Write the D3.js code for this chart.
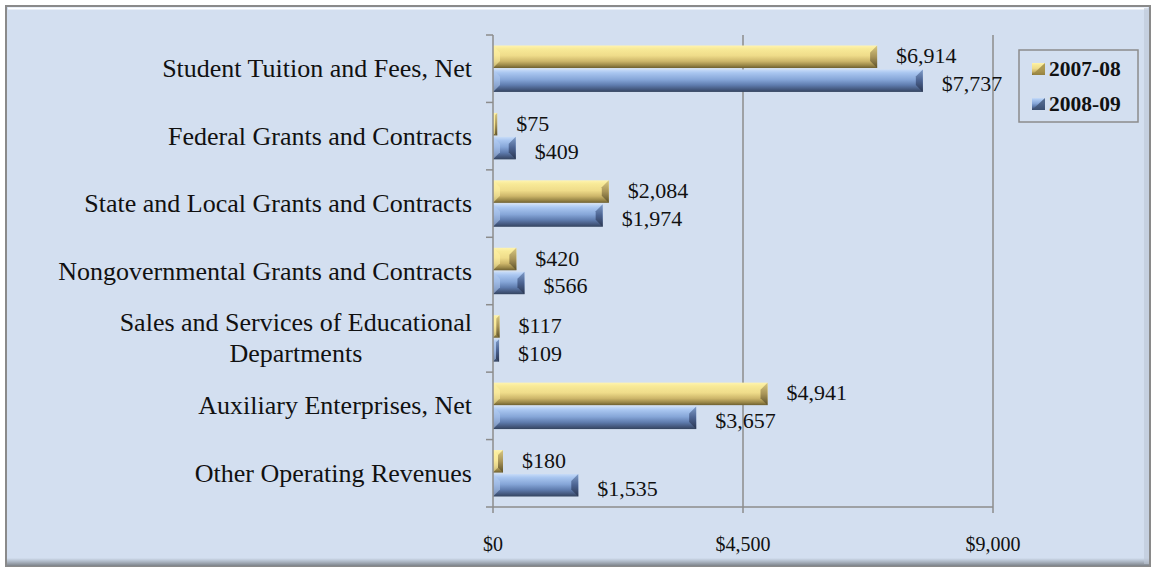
<!DOCTYPE html>
<html><head><meta charset="utf-8">
<script src="https://cdn.jsdelivr.net/npm/d3@7"></script>
<style>body{margin:0;background:#fff;}svg{display:block;}</style>
</head><body>
<svg id="chart" width="1153" height="572"></svg>
<script>
const categories = ["Student Tuition and Fees, Net","Federal Grants and Contracts","State and Local Grants and Contracts","Nongovernmental Grants and Contracts","Sales and Services of Educational Departments","Auxiliary Enterprises, Net","Other Operating Revenues"];
const seriesNames = ["2007-08","2008-09"];
const values0708 = [6914,75,2084,420,117,4941,180];
const values0809 = [7737,409,1974,566,109,3657,1535];
const tickValues = [0,4500,9000];

const svg = d3.select("#chart");
const serif = "'Liberation Serif','Times New Roman',serif";
const defs = svg.append("defs");
function grad(id, stops, vertical=true){
  const g = defs.append("linearGradient").attr("id",id)
    .attr("x1",0).attr("y1",0).attr("x2",vertical?0:1).attr("y2",vertical?1:0);
  stops.forEach(s=>g.append("stop").attr("offset",s[0]).attr("stop-color",s[1]));
}
grad("gy",[[0,"#fff4b0"],[0.15,"#f8ea98"],[0.45,"#efdc8a"],[0.7,"#cdb66a"],[0.88,"#9a8748"],[1,"#6e6030"]]);
grad("gb",[[0,"#c8dcf8"],[0.15,"#a9c6f0"],[0.45,"#86a6d8"],[0.7,"#5f7cae"],[0.88,"#45597f"],[1,"#34445f"]]);
grad("gye",[[0,"#d8c880"],[0.5,"#a89458"],[1,"#5c5028"]]);
grad("gbe",[[0,"#7f9cc8"],[0.5,"#4b6290"],[1,"#2a3650"]]);
grad("frameBottom",[[0,"#d3dff0"],[0.5,"#a9b3c0"],[1,"#7d8288"]]);

// frame
svg.append("rect").attr("x",6).attr("y",6).attr("width",1144).attr("height",560)
  .attr("fill","#d3dff0").attr("stroke","#8a8a8a").attr("stroke-width",2);
svg.append("line").attr("x1",8).attr("x2",1148).attr("y1",8.5).attr("y2",8.5).attr("stroke","#ffffff").attr("stroke-width",2);
svg.append("rect").attr("x",7).attr("y",558).attr("width",1142).attr("height",8).attr("fill","url(#frameBottom)");
svg.append("rect").attr("x",1144).attr("y",8).attr("width",5).attr("height",556).attr("fill","#bcc7d6").attr("opacity",0.6);

const x = d3.scaleLinear().domain([0,9000]).range([493,993]);
const y0 = d3.scaleBand().domain(categories).range([35,507]).padding(0);
const y1 = d3.scaleBand().domain(seriesNames).range([10.5, y0.bandwidth()-10.5]).paddingInner(0.06);

// gridlines
svg.append("g").selectAll("line").data(tickValues.filter(v=>v>0)).join("line")
  .attr("x1",d=>x(d)).attr("x2",d=>x(d)).attr("y1",35).attr("y2",507)
  .attr("stroke","#8c8c8c").attr("stroke-width",1.5);

// bars
const data = categories.map((c,i)=>({c, vals:[{s:seriesNames[0],v:values0708[i]},{s:seriesNames[1],v:values0809[i]}]}));
const groups = svg.append("g").selectAll("g").data(data).join("g")
  .attr("transform",d=>`translate(0,${y0(d.c)})`);
groups.each(function(d){
  const g = d3.select(this);
  d.vals.forEach((e,k)=>{
    const yy = y1(e.s), h = y1.bandwidth(), x0 = x(0), w = x(e.v)-x(0);
    g.append("rect").attr("x",x0).attr("y",yy).attr("width",w).attr("height",h)
      .attr("fill",k===0?"url(#gy)":"url(#gb)");
    const b = Math.min(7, w/2);
    g.append("polygon").attr("points",`${x0+w-b},${yy+b} ${x0+w},${yy} ${x0+w},${yy+h} ${x0+w-b},${yy+h-b}`)
      .attr("fill",k===0?"url(#gye)":"url(#gbe)");
    g.append("polygon").attr("points",`${x0},${yy} ${x0+b},${yy+b} ${x0+b},${yy+h-b} ${x0},${yy+h}`)
      .attr("fill",k===0?"#fff2a8":"#b4ccf0").attr("opacity",0.55);
    g.append("text").attr("x",x(e.v)+19).attr("y",yy+h/2+(k===0?-1:3))
      .attr("dominant-baseline","central").attr("font-family",serif).attr("font-size",22)
      .attr("fill","#111").text(d3.format("$,")(e.v));
  });
});

// left axis
svg.append("line").attr("x1",493).attr("x2",493).attr("y1",35).attr("y2",507).attr("stroke","#8c8c8c").attr("stroke-width",1.5);
svg.append("g").selectAll("line").data(d3.range(categories.length+1)).join("line")
  .attr("x1",486).attr("x2",493)
  .attr("y1",i=>35+i*y0.step()).attr("y2",i=>35+i*y0.step())
  .attr("stroke","#8c8c8c").attr("stroke-width",1.5);
// bottom axis
svg.append("line").attr("x1",493).attr("x2",993).attr("y1",507).attr("y2",507).attr("stroke","#8c8c8c").attr("stroke-width",1.5);
svg.append("g").selectAll("line").data(tickValues).join("line")
  .attr("x1",d=>x(d)).attr("x2",d=>x(d)).attr("y1",507).attr("y2",513)
  .attr("stroke","#8c8c8c").attr("stroke-width",1.5);
svg.append("g").selectAll("text").data(tickValues).join("text")
  .attr("x",d=>x(d)).attr("y",544).attr("text-anchor","middle").attr("dominant-baseline","central")
  .attr("font-family",serif).attr("font-size",20).attr("fill","#111")
  .text(d=>d3.format("$,")(d));

// category labels
const labelLines = {"Sales and Services of Educational Departments":["Sales and Services of Educational","Departments"]};
categories.forEach(c=>{
  const lines = labelLines[c] || [c];
  const cy = y0(c)+y0.bandwidth()/2;
  const t = svg.append("text").attr("font-family",serif).attr("font-size",26).attr("fill","#111");
  const spans = lines.map((ln,i)=>t.append("tspan").attr("y",cy+(i-(lines.length-1)/2)*31).attr("dominant-baseline","central").text(ln));
  const widths = spans.map(s=>s.node().getComputedTextLength());
  const maxW = d3.max(widths);
  spans.forEach(s=>s.attr("x",472-maxW/2).attr("text-anchor","middle"));
});

// legend
const lg = svg.append("g");
lg.append("rect").attr("x",1019).attr("y",50).attr("width",119).attr("height",72)
  .attr("fill","#d3dff0").attr("stroke","#8c8c8c").attr("stroke-width",1.5);
seriesNames.forEach((s,i)=>{
  const yy = 69+i*35;
  lg.append("rect").attr("x",1032).attr("y",yy-6).attr("width",13).attr("height",12)
    .attr("fill",i===0?"url(#gy)":"url(#gb)");
  lg.append("polygon").attr("points",`${1032},${yy+6} ${1045},${yy-6} ${1045},${yy+6}`)
    .attr("fill",i===0?"#9c8844":"#3e5274").attr("opacity",0.8);
  lg.append("text").attr("x",1049).attr("y",yy).attr("dominant-baseline","central")
    .attr("font-family",serif).attr("font-weight","bold").attr("font-size",21.5).attr("fill","#111").text(s);
});
</script>
</body></html>
